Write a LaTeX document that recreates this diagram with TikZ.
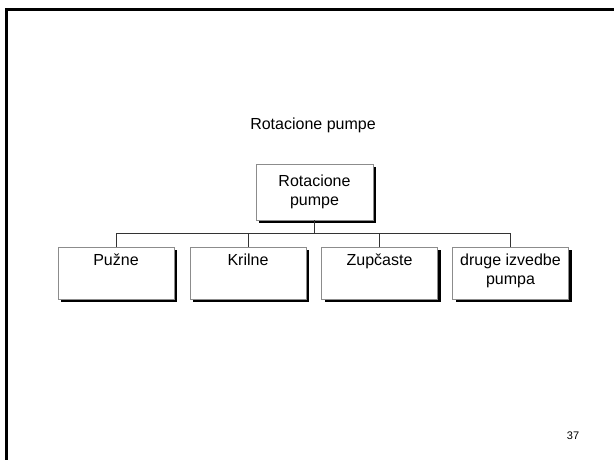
\documentclass[tikz,border=0pt]{standalone}
\usepackage{fontspec}
\setmainfont{Liberation Sans}
\usetikzlibrary{shadows}
\newcommand\deepstrut{\rule[-9.85pt]{0pt}{10pt}}
\begin{document}
\begin{tikzpicture}[x=1pt,y=-1pt,
  boxstyle/.style={draw=black!45, line width=0.8pt, fill=white, align=center,
    inner sep=0pt, font=\fontsize{16}{19.5}\selectfont,
    drop shadow={shadow xshift=3pt, shadow yshift=-3pt, fill=black, opacity=1}},
  leaf/.style={boxstyle, minimum width=116pt, minimum height=52pt},
  conn/.style={draw=black!80, line width=0.9pt}]
\useasboundingbox (0,0) rectangle (614,459);
\fill[white] (0,0) rectangle (614,459);
\draw[line width=3pt] (6,460) -- (6,9.5) -- (615,9.5);
\node[font=\fontsize{16}{19}\selectfont] (title) at (313,125) {Rotacione pumpe};
\node[boxstyle, minimum width=117pt, minimum height=56pt] (root) at (314.5,192) {\strut Rotacione\\\strut pumpe};
\node[leaf] (b1) at (116,273) {\strut Pužne\\\strut\deepstrut};
\node[leaf] (b2) at (248,273) {\strut Krilne\\\strut\deepstrut};
\node[leaf] (b3) at (379.5,273) {\strut Zupčaste\\\strut\deepstrut};
\node[leaf] (b4) at (510.5,273) {\strut druge izvedbe\\\strut pumpa\deepstrut};
\coordinate (bus) at (314.5,233);
\draw[conn] (root.south) -- (root.south |- bus);
\draw[conn] (b1.north) -- (b1.north |- bus) -- (b4.north |- bus) -- (b4.north);
\draw[conn] (b2.north) -- (b2.north |- bus);
\draw[conn] (b3.north) -- (b3.north |- bus);
\node[font=\fontsize{11}{13}\selectfont] (page) at (573,436) {37};
\end{tikzpicture}
\end{document}
